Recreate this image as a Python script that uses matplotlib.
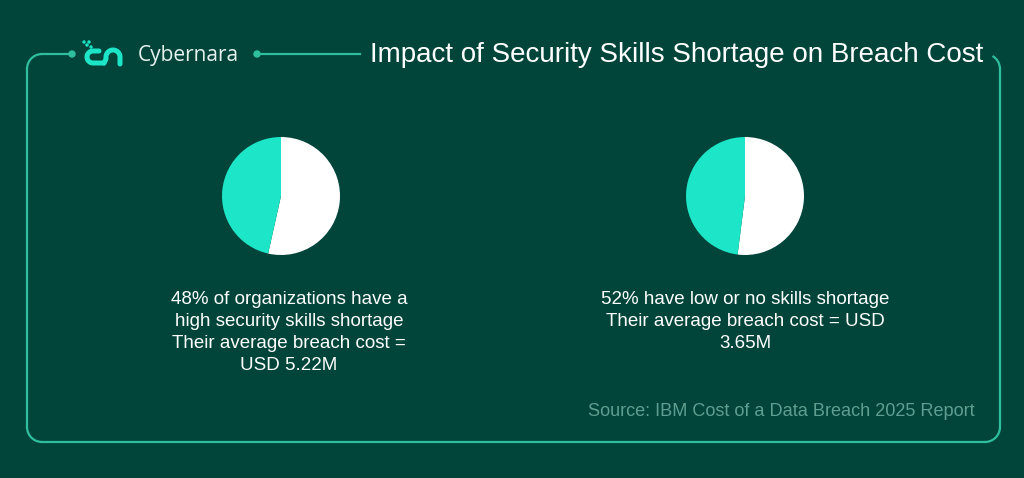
import matplotlib
matplotlib.use("Agg")
import matplotlib.pyplot as plt
import numpy as np
from matplotlib.patches import Arc, Circle

# Daten
titel = "Impact of Security Skills Shortage on Breach Cost"
marke = "Cybernara"
quelle = "Source: IBM Cost of a Data Breach 2025 Report"
anteil_links = [53.5, 46.5]   # weiss, tuerkis
anteil_rechts = [52, 48]
text_links = ["48% of organizations have a", "high security skills shortage",
              "Their average breach cost =", "USD 5.22M"]
text_rechts = ["52% have low or no skills shortage", "Their average breach cost = USD",
               "3.65M"]

HG = "#00443a"
TUERKIS = "#1de5c7"
RAHMEN = "#2fbf9f"
WEISS = "#ffffff"

plt.rcParams['font.family'] = ['Liberation Sans', 'DejaVu Sans']

fig = plt.figure(figsize=(10.24, 4.78), dpi=100, facecolor=HG)
ax = fig.add_axes([0, 0, 1, 1])
ax.set_xlim(0, 1024)
ax.set_ylim(478, 0)
ax.axis('off')
ax.set_facecolor(HG)

# Rahmen
r = 15
lw = 1.6
ax.plot([72, 42], [54, 54], color=RAHMEN, lw=lw)
ax.add_patch(Arc((42, 69), 2*r, 2*r, theta1=180, theta2=270, color=RAHMEN, lw=lw))
ax.plot([27, 27], [69, 427], color=RAHMEN, lw=lw)
ax.add_patch(Arc((42, 427), 2*r, 2*r, theta1=90, theta2=180, color=RAHMEN, lw=lw))
ax.plot([42, 985], [442, 442], color=RAHMEN, lw=lw)
ax.add_patch(Arc((985, 427), 2*r, 2*r, theta1=0, theta2=90, color=RAHMEN, lw=lw))
ax.plot([1000, 1000], [427, 69], color=RAHMEN, lw=lw)
ax.add_patch(Arc((985, 69), 2*r, 2*r, theta1=300, theta2=360, color=RAHMEN, lw=lw))
ax.plot([257, 360], [54, 54], color=RAHMEN, lw=lw)
ax.add_patch(Circle((72, 54), 3, color=RAHMEN))
ax.add_patch(Circle((257, 54), 3, color=RAHMEN))

# Logo
t = np.linspace(np.pi/2, 3*np.pi/2, 30)
cx = 93 + 6*np.cos(t)
cy = 57 - 6*np.sin(t)
ax.plot(np.r_[99, cx, 104], np.r_[51, cy, 63], color=TUERKIS, lw=3.6,
        solid_capstyle='round')
t2 = np.linspace(np.pi, 0, 30)
nx = 113 + 7*np.cos(t2)
ny = 57 - 7*np.sin(t2)
ax.plot(np.r_[104, 106, nx, 120], np.r_[63, 59, ny, 64], color=TUERKIS, lw=3.6,
        solid_capstyle='round', solid_joinstyle='round')
for px, py in [(84, 42), (87, 45), (89, 42), (91, 47)]:
    ax.add_patch(Circle((px, py), 1.0, color=TUERKIS))

ax.text(138, 55, marke, color='#e8f3f0', fontsize=15, family=['Open Sans', 'DejaVu Sans'],
        ha='left', va='center')
ax.text(370, 55, titel, color=WEISS, fontsize=20, ha='left', va='center')

# Kreise
for cx0, werte in [(281, anteil_links), (745, anteil_rechts)]:
    pax = fig.add_axes([(cx0-59)/1024, 1-(196+59)/478, 118/1024, 118/478])
    pax.pie(werte, colors=[WEISS, TUERKIS], startangle=90, counterclock=False,
            wedgeprops=dict(linewidth=0))
    pax.set_xlim(-1, 1)
    pax.set_ylim(-1, 1)
    pax.set_aspect('equal')

for i, zeile in enumerate(text_links):
    ax.text(289, 300 + 22*i, zeile, color=WEISS, fontsize=13.5, ha='center', va='center')
for i, zeile in enumerate(text_rechts):
    ax.text(745, 300 + 22*i, zeile, color=WEISS, fontsize=13.5, ha='center', va='center')

ax.text(975, 411, quelle, color='#5f9e90', fontsize=13.1, ha='right', va='center')

fig.savefig("out.png", dpi=100, facecolor=HG)
